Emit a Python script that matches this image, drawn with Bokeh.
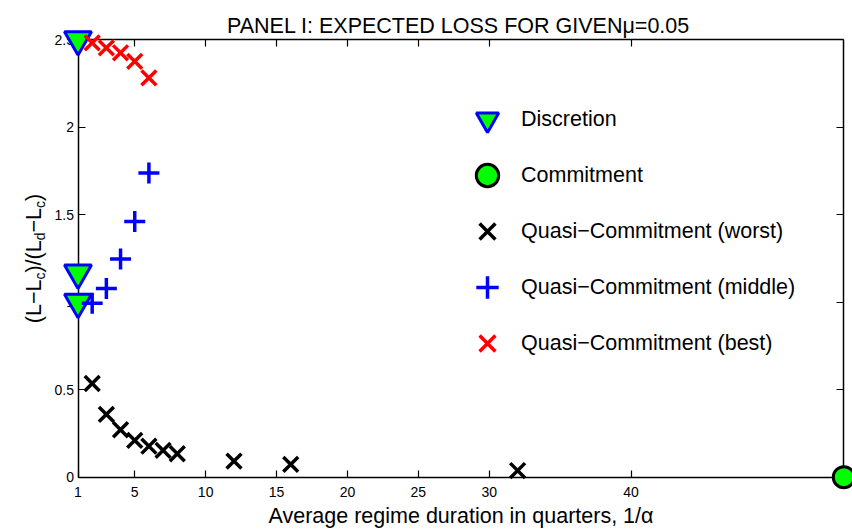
import math
from bokeh.plotting import figure
from bokeh.models import (LinearAxis, FixedTicker, Range1d, Legend, LegendItem,
                          Label, NumeralTickFormatter)
from bokeh.embed import file_html
from bokeh.resources import INLINE

# ---------------- data ----------------
x_ticks = [1, 5, 10, 15, 20, 25, 30, 40]
y_ticks = [0, 0.5, 1, 1.5, 2, 2.5]
x_lim = (1, 55)
y_lim = (0, 2.5)

disc_x = [1, 1, 1]
disc_y = [2.5, 1.167, 1.0]
comm_x = [55]
comm_y = [0.0]
worst_x = [2, 3, 4, 5, 6, 7, 8, 12, 16, 32]
worst_y = [0.535, 0.359, 0.271, 0.210, 0.177, 0.153, 0.134, 0.092, 0.073, 0.038]
middle_x = [2, 3, 4, 5, 6]
middle_y = [0.993, 1.078, 1.246, 1.460, 1.737]
best_x = [2, 3, 4, 5, 6]
best_y = [2.481, 2.452, 2.424, 2.375, 2.281]

labels = ["Discretion", "Commitment", "Quasi−Commitment (worst)",
          "Quasi−Commitment (middle)", "Quasi−Commitment (best)"]
title_text = "PANEL I: EXPECTED LOSS FOR GIVENμ=0.05"
xlabel_text = "Average regime duration in quarters, 1/α"
ylabel_parts = [("(L−L", False), ("c", True), (")/(L", False), ("d", True),
                ("−L", False), ("c", True), (")", False)]

# ---------------- layout ----------------
FONT = "Liberation Sans"
W, H = 852, 532
# target pixel positions of the axes box (frame covers the whole canvas)
px_x0, px_x1 = 77.5, 843.3
py_y1, py_y0 = 39.0, 476.7

sx = (px_x1 - px_x0) / (x_lim[1] - x_lim[0])
x_start = x_lim[0] - px_x0 / sx
x_end = x_lim[0] + (W - px_x0) / sx
sy = (py_y0 - py_y1) / (y_lim[1] - y_lim[0])
y_end = y_lim[1] + py_y1 / sy
y_start = y_lim[0] - (H - py_y0) / sy

p = figure(width=W, height=H, x_range=Range1d(x_start, x_end),
           y_range=Range1d(y_start, y_end), x_axis_location=None,
           y_axis_location=None, output_backend="svg", toolbar_location=None,
           min_border_left=0, min_border_right=0, min_border_top=0,
           min_border_bottom=0, title=None)
p.outline_line_color = None
p.background_fill_color = "white"
p.border_fill_color = "white"
p.grid.visible = False


def make_axis(fixed, bounds, ticks, show_labels):
    ax = LinearAxis(fixed_location=fixed, bounds=bounds,
                    ticker=FixedTicker(ticks=ticks, minor_ticks=[]),
                    major_tick_in=7, major_tick_out=0,
                    minor_tick_line_color=None,
                    axis_line_width=1.5, major_tick_line_width=1.2,
                    axis_line_color="black", major_tick_line_color="black",
                    major_label_text_font=FONT,
                    major_label_text_font_size="14px",
                    major_label_text_color="black" if show_labels else None,
                    level="underlay")
    return ax


xb = make_axis(y_lim[0], x_lim, x_ticks, True)
xb.major_label_standoff = 10
xb.axis_label = xlabel_text
xb.axis_label_text_font = FONT
xb.axis_label_text_font_size = "21.5px"
xb.axis_label_text_font_style = "normal"
xb.axis_label_text_color = "black"
xb.axis_label_standoff = 3
p.add_layout(xb, "below")

yl = make_axis(x_lim[0], y_lim, y_ticks, True)
yl.major_label_standoff = 4
yl.formatter = NumeralTickFormatter(format="0.[0]")
p.add_layout(yl, "left")

xt = make_axis(y_lim[1], x_lim, x_ticks, False)
p.add_layout(xt, "above")
yr = make_axis(x_lim[1], y_lim, y_ticks, False)
p.add_layout(yr, "right")

# ---------------- glyphs ----------------
r_disc = p.scatter(disc_x, disc_y, marker="inverted_triangle", size=27,
                   fill_color="#00ff00", line_color="#0000ff", line_width=3)
r_comm = p.scatter(comm_x, comm_y, marker="circle", size=21,
                   fill_color="#00ff00", line_color="black", line_width=3)
r_worst = p.scatter(worst_x, worst_y, marker="x", size=21,
                    line_color="black", line_width=3.5)
r_mid = p.scatter(middle_x, middle_y, marker="cross", size=21,
                  line_color="#0000ff", line_width=3.5)
r_best = p.scatter(best_x, best_y, marker="x", size=21,
                   line_color="#ff0000", line_width=3.5)

legend = Legend(items=[LegendItem(label=l, renderers=[r]) for l, r in
                       zip(labels, [r_disc, r_comm, r_worst, r_mid, r_best])],
                location=(457, 161), glyph_width=60, glyph_height=56,
                spacing=0, padding=0, margin=0, label_standoff=4,
                label_text_font=FONT, label_text_font_size="21.5px",
                label_text_color="black", border_line_color=None,
                background_fill_alpha=0)
p.add_layout(legend)

# ---------------- texts ----------------
p.add_layout(Label(x=458, y=H - 25, x_units="screen", y_units="screen",
                   text=title_text, text_align="center",
                   text_baseline="alphabetic", text_font=FONT,
                   text_font_size="21.5px", text_color="black"))

W_ARIAL = {"(": 333, ")": 333, "L": 556, "−": 584, "/": 278, "c": 500, "d": 556}
pos = H - 322.7
for txt, sub in ylabel_parts:
    fs = 14 if sub else 21.5
    p.add_layout(Label(x=33 + (6 if sub else 0), y=pos, x_units="screen",
                       y_units="screen", text=txt, angle=math.pi / 2,
                       text_align="left", text_baseline="alphabetic",
                       text_font=FONT, text_font_size=f"{fs}px",
                       text_color="black"))
    pos += sum(W_ARIAL[ch] for ch in txt) / 1000 * fs

open("out.html", "w").write(file_html(p, INLINE))
